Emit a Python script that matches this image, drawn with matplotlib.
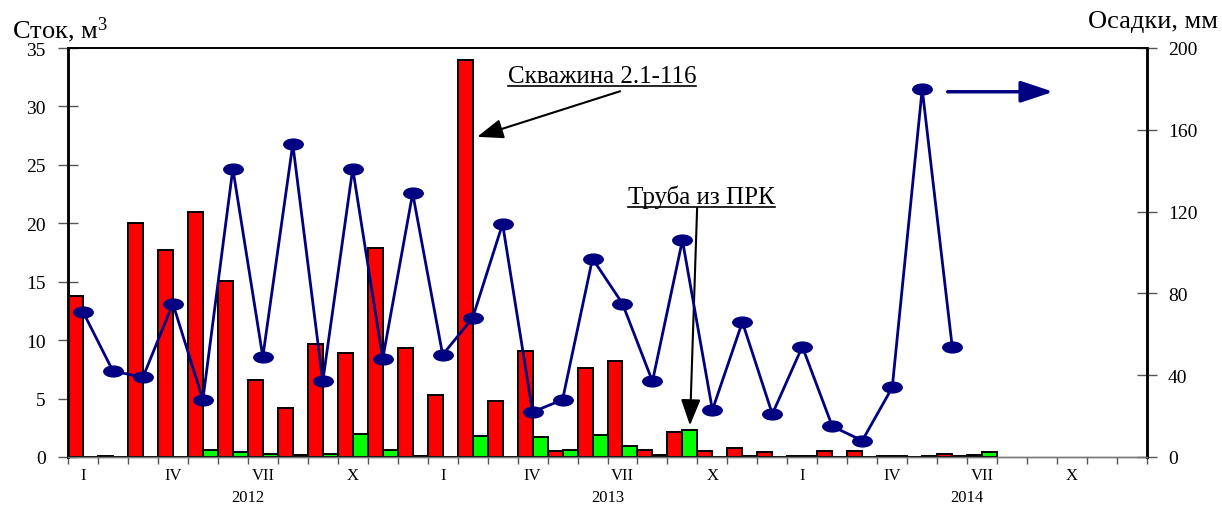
import numpy as np
import matplotlib
matplotlib.use("Agg")
import matplotlib.pyplot as plt
from matplotlib.path import Path
from matplotlib.transforms import Affine2D

plt.rcParams['font.family'] = ['Liberation Serif', 'DejaVu Serif']
plt.rcParams['mathtext.fontset'] = 'custom'
plt.rcParams['mathtext.rm'] = 'Liberation Serif'
plt.rcParams['mathtext.it'] = 'Liberation Serif'

# monthly runoff (m3), Jan 2012 .. Dec 2014
red_2012 = [13.8, 0.1, 20.0, 17.7, 21.0, 15.1, 6.6, 4.2, 9.7, 8.9, 17.9, 9.3]
red_2013 = [5.3, 34.0, 4.8, 9.1, 0.5, 7.6, 8.2, 0.6, 2.1, 0.5, 0.8, 0.45]
red_2014 = [0.05, 0.5, 0.5, 0.05, 0.0, 0.25, 0.15, np.nan, np.nan, np.nan, np.nan, np.nan]

green_2012 = [0.0, 0.0, 0.0, 0.0, 0.63, 0.46, 0.26, 0.17, 0.26, 2.0, 0.63, 0.1]
green_2013 = [0.0, 1.8, 0.0, 1.7, 0.6, 1.9, 0.9, 0.2, 2.3, 0.0, 0.05, 0.0]
green_2014 = [0.1, 0.0, 0.0, 0.05, 0.05, 0.05, 0.4, np.nan, np.nan, np.nan, np.nan, np.nan]

# monthly precipitation (mm)
precip_2012 = [71, 42, 39, 75, 28, 141, 49, 153, 37, 141, 48, 129]
precip_2013 = [50, 68, 114, 22, 28, 97, 75, 37, 106, 23, 66, 21]
precip_2014 = [54, 15, 8, 34, 180, 54, np.nan, np.nan, np.nan, np.nan, np.nan, np.nan]

month_labels = ['I', '', '', 'IV', '', '', 'VII', '', '', 'X', '', '']
years = ['2012', '2013', '2014']

red = np.array(red_2012 + red_2013 + red_2014)
green = np.array(green_2012 + green_2013 + green_2014)
precip = np.array(precip_2012 + precip_2013 + precip_2014, dtype=float)
n = len(red)
x = np.arange(n)

fig = plt.figure(figsize=(12.22, 5.06), dpi=100)
ax = fig.add_axes([68/1222, 1 - 458/506, (1147-68)/1222, (458-49)/506])
ax2 = ax.twinx()

ax.bar(x, red, width=0.5, align='edge', color='#ff0000', edgecolor='black', linewidth=1.4, zorder=3)
ax.bar(x + 0.5, green, width=0.5, align='edge', color='#00ff00', edgecolor='black', linewidth=1.4, zorder=3)

# wide ellipse marker
ell = Path.unit_circle().transformed(Affine2D().scale(1.8, 1.0))
ax2.plot(x + 0.5, precip, color='#000080', lw=2.0, marker=ell, markersize=14,
         markerfacecolor='#000080', markeredgecolor='#000080', zorder=4)

ax.set_xlim(0, n)
ax.set_ylim(0, 35)
ax2.set_ylim(0, 200)
ax.set_yticks(np.arange(0, 36, 5))
ax2.set_yticks(np.arange(0, 201, 40))

ax.set_xticks(x + 0.5)
ax.set_xticklabels(month_labels * 3)
ax.set_xticks(np.arange(n + 1), minor=True)
ax.tick_params(axis='x', which='major', length=0, pad=7.2, labelsize=12)
ax.tick_params(axis='x', which='minor', length=5, width=1, direction='out', color='#555555')
ax.tick_params(axis='y', direction='inout', length=14, width=1, labelsize=14, pad=9, color='#555555')
ax2.tick_params(axis='y', direction='inout', length=14, width=1, labelsize=14, pad=8, color='#555555')

for a in (ax, ax2):
    a.spines['left'].set_linewidth(1.8)
    a.spines['right'].set_linewidth(1.8)
    a.spines['top'].set_linewidth(1.2)
    a.spines['bottom'].set_linewidth(1.0)
    a.spines['bottom'].set_color('#777777')

for i, yr in enumerate(years):
    ax.annotate(yr, xy=(12 * i + 6, 0), xycoords=('data', 'axes fraction'),
                xytext=(0, -44), textcoords='offset pixels', ha='center', va='baseline',
                fontsize=12)

fig.text(12/1222, 1 - 30/506, 'Сток, м$^{3}$', fontsize=19, va='center', ha='left')
fig.text(1218/1222, 1 - 22/506, 'Осадки, мм', fontsize=19, va='center', ha='right')

# annotations
t1 = ax.text(14.68, 32.6, 'Скважина 2.1-116', fontsize=18, ha='left', va='center')
ax.annotate('', xy=(13.65, 27.4), xytext=(18.42, 31.3),
            arrowprops=dict(arrowstyle='-|>,head_length=0.8,head_width=0.3', color='black',
                            lw=1.5, mutation_scale=20, shrinkA=0, shrinkB=0))

t2 = ax.text(18.69, 22.3, 'Труба из ПРК', fontsize=18, ha='left', va='center')
ax.annotate('', xy=(20.75, 2.7), xytext=(20.99, 21.3),
            arrowprops=dict(arrowstyle='-|>,head_length=0.8,head_width=0.3', color='black',
                            lw=1.5, mutation_scale=20, shrinkA=0, shrinkB=0))

ax2.annotate('', xy=(32.87, 178.6), xytext=(29.35, 178.6),
             arrowprops=dict(arrowstyle='-|>,head_length=0.9,head_width=0.3', color='#000080',
                             lw=2.5, mutation_scale=22, shrinkA=0, shrinkB=0))

# underline the two labels
fig.canvas.draw()
inv = fig.transFigure.inverted()
for t in (t1, t2):
    bb = t.get_window_extent()
    (x0, y0), (x1, _) = inv.transform([[bb.x0, bb.y0 + 1], [bb.x1, bb.y0]])
    fig.add_artist(plt.Line2D([x0, x1], [y0, y0], color='black', lw=1.2, transform=fig.transFigure))

fig.savefig('out.png', dpi=100)
